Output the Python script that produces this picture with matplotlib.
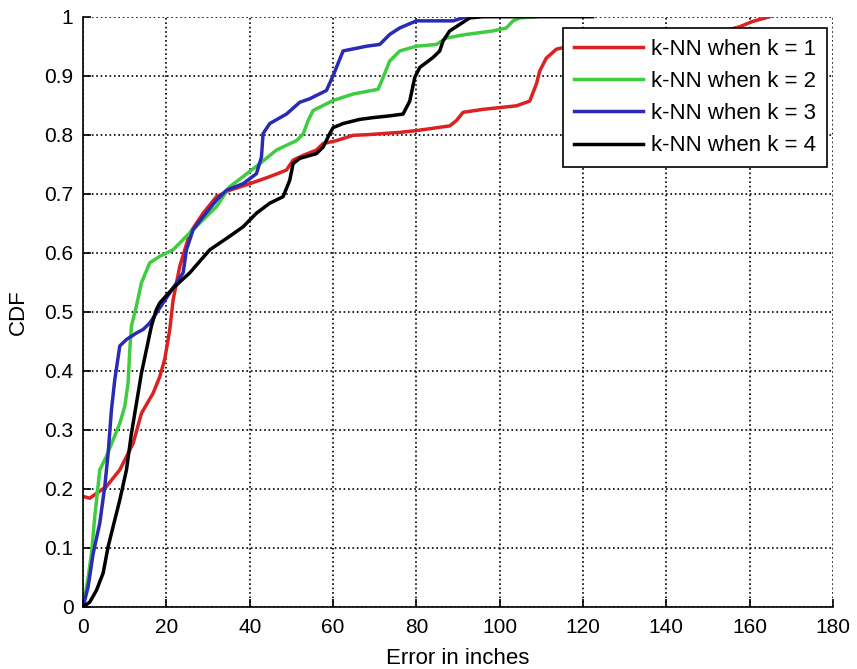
import numpy as np
import matplotlib
matplotlib.use('Agg')
import matplotlib.pyplot as plt

# error (inches) / CDF points
k1_err = [0, 1.6, 5.6, 8.8, 12, 14, 16.8, 18.4, 19.6, 20.8, 21.6, 23.2, 25.6, 28.8, 32, 35.2, 40, 44.8,
          48.8, 50.4, 52.8, 56, 57.6, 60.8, 64.8, 68, 76, 80, 88, 89.6, 91.2, 96, 104, 107.2, 108.8,
          109.6, 111.2, 113.6, 120, 140, 155, 157.6, 160.7, 164.8]
k1_cdf = [0.187, 0.184, 0.204, 0.232, 0.277, 0.328, 0.362, 0.39, 0.42, 0.47, 0.52, 0.577, 0.633, 0.667,
          0.695, 0.706, 0.717, 0.729, 0.74, 0.757, 0.765, 0.774, 0.785, 0.79, 0.799, 0.8, 0.804, 0.807,
          0.815, 0.824, 0.838, 0.843, 0.849, 0.857, 0.886, 0.908, 0.93, 0.945, 0.955, 0.97, 0.978,
          0.983, 0.992, 1.0]

k2_err = [0, 1.2, 2, 2.8, 4, 5.6, 7.2, 8.8, 10, 10.8, 11.2, 11.6, 12.8, 14, 16, 18.4, 21.6, 24.8, 28.8,
          32, 35.2, 38.4, 42.4, 46.4, 51.2, 52.8, 54, 55.2, 60, 64.8, 70.8, 72, 73.6, 76, 80, 84.8, 87.2,
          92, 98.4, 101.6, 103.2, 104.8, 108.8]
k2_cdf = [0, 0.05, 0.09, 0.153, 0.232, 0.255, 0.283, 0.311, 0.34, 0.38, 0.436, 0.476, 0.51, 0.549, 0.583,
          0.594, 0.605, 0.628, 0.656, 0.678, 0.712, 0.729, 0.751, 0.774, 0.79, 0.801, 0.824, 0.841, 0.858,
          0.869, 0.877, 0.897, 0.925, 0.942, 0.95, 0.953, 0.964, 0.97, 0.976, 0.981, 0.993, 0.998, 1.0]

k3_err = [0, 1.2, 2.4, 4, 5.2, 6, 6.8, 7.6, 8.8, 10.4, 12.8, 14.4, 16, 17.6, 20.8, 24, 24.8, 26.4, 28.8,
          32, 34.4, 38.4, 41.6, 42.8, 43.2, 44.8, 48.8, 52, 54.4, 58.4, 60, 62.4, 68, 71.2, 73.6, 76, 80,
          88.8, 92, 93]
k3_cdf = [0, 0.034, 0.09, 0.142, 0.204, 0.26, 0.334, 0.385, 0.442, 0.453, 0.464, 0.47, 0.481, 0.498, 0.532,
          0.566, 0.605, 0.639, 0.661, 0.689, 0.706, 0.717, 0.734, 0.762, 0.802, 0.819, 0.835, 0.855, 0.861,
          0.875, 0.9, 0.942, 0.95, 0.953, 0.97, 0.981, 0.993, 0.993, 1.0, 1.0]

k4_err = [0, 1.6, 3.2, 4.8, 6, 7.2, 8.8, 10.4, 11.6, 12.8, 14, 15.2, 16.4, 17.6, 18.4, 21.6, 25.6, 30.4,
          35.2, 38.4, 41.6, 44.8, 48, 49.6, 50.4, 52, 56, 57.6, 59.2, 60, 62.4, 66.4, 69.6, 73.6, 76.8,
          78.4, 79.6, 80.8, 84, 85.6, 86.4, 88, 90.4, 92.8, 96, 122.3]
k4_cdf = [0, 0.008, 0.028, 0.057, 0.102, 0.136, 0.181, 0.232, 0.294, 0.345, 0.396, 0.436, 0.476, 0.504,
          0.515, 0.54, 0.566, 0.605, 0.628, 0.644, 0.667, 0.684, 0.695, 0.723, 0.751, 0.76, 0.768, 0.779,
          0.802, 0.812, 0.819, 0.826, 0.829, 0.832, 0.835, 0.857, 0.897, 0.914, 0.931, 0.942, 0.959, 0.976,
          0.987, 0.998, 1.0, 1.0]

labels = ['k-NN when k = 1', 'k-NN when k = 2', 'k-NN when k = 3', 'k-NN when k = 4']
colors = ['#dd2020', '#40cc40', '#2a2ab4', 'black']

plt.rcParams['font.family'] = ['Liberation Sans', 'DejaVu Sans']

fig = plt.figure(figsize=(8.57, 6.69), dpi=100)
ax = fig.add_axes([0.097, 0.093, 0.875, 0.882])

series = [(k1_err, k1_cdf), (k2_err, k2_cdf), (k3_err, k3_cdf), (k4_err, k4_cdf)]
for (x, y), lab, c in zip(series, labels, colors):
    ax.plot(x, y, color=c, linewidth=2.5, label=lab)

ax.set_xlim(0, 180)
ax.set_ylim(0, 1)
ax.set_xticks(np.arange(0, 181, 20))
ax.set_yticks(np.arange(0, 1.01, 0.1))
ax.set_yticklabels(['0', '0.1', '0.2', '0.3', '0.4', '0.5', '0.6', '0.7', '0.8', '0.9', '1'])
ax.grid(True, linestyle=':', color='black', linewidth=1.2)
ax.spines['top'].set_visible(False)
ax.spines['right'].set_visible(False)
ax.tick_params(direction='in', length=6, width=1.2, labelsize=15)
ax.tick_params(axis='x', pad=8)
ax.tick_params(axis='y', pad=7)
for s in ['left', 'bottom']:
    ax.spines[s].set_linewidth(1.2)
ax.set_xlabel('Error in inches', fontsize=16, labelpad=8)
ax.set_ylabel('CDF', fontsize=16, labelpad=11)

leg = ax.legend(loc='upper right', bbox_to_anchor=(0.992, 0.981), borderaxespad=0, fontsize=16,
                handlelength=3.1, fancybox=False, framealpha=1, edgecolor='black', borderpad=0.5,
                labelspacing=0.5, handletextpad=0.35)
leg.get_frame().set_linewidth(1.2)

fig.savefig('out.png', dpi=100)
